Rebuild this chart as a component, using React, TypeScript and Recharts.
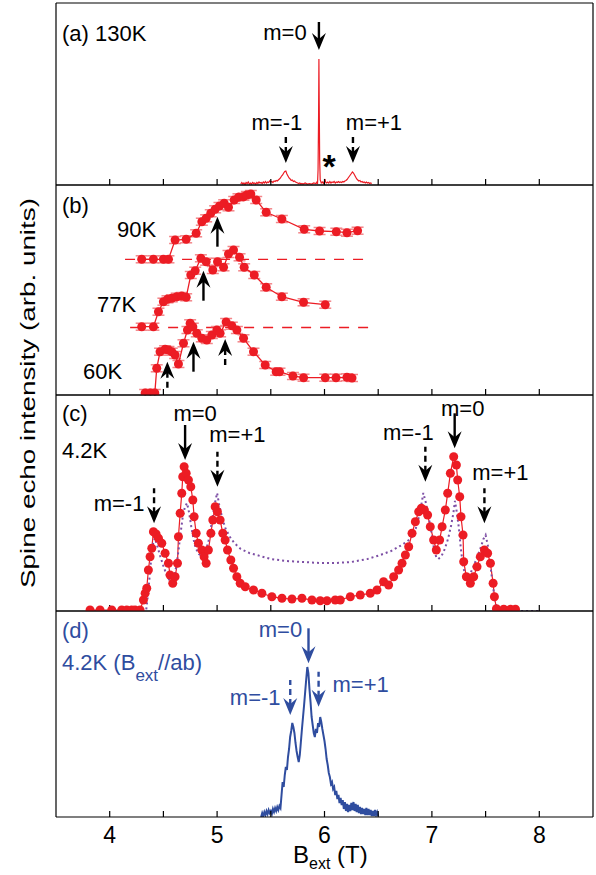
import React from 'react';
import { ComposedChart, Line, XAxis, YAxis, ErrorBar, ReferenceLine, ReferenceDot } from 'recharts';

const RED = '#ec1c24';
const PINK = '#f3868a';
const PURPLE = '#7d4fa5';
const BLUE = '#2f4d9f';
const FONT = '"Liberation Sans", Arial, sans-serif';

const xTicks = [4, 4.5, 5, 5.5, 6, 6.5, 7, 7.5, 8];

// (a) 130K spectrum
const spec130K = [
  [5.22, 1], [5.23, 2.5], [5.24, 1], [5.25, 2], [5.26, 0.5], [5.27, 2.5], [5.28, 1.5], [5.29, 3], [5.3, 1], [5.31, 2],
  [5.32, 1], [5.33, 2.5], [5.34, 1.5], [5.35, 2], [5.36, 1], [5.37, 2.5], [5.38, 1.5], [5.39, 3], [5.4, 2], [5.41, 2.5],
  [5.42, 1.5], [5.43, 3], [5.44, 2], [5.45, 3.5], [5.46, 2], [5.47, 3], [5.48, 2.5], [5.49, 4], [5.5, 3], [5.51, 3.5],
  [5.52, 2.5], [5.53, 4], [5.54, 3.5], [5.55, 4.5], [5.56, 4], [5.57, 5], [5.58, 6], [5.59, 7], [5.6, 9], [5.61, 10],
  [5.62, 12], [5.63, 13.5], [5.64, 14], [5.65, 11], [5.66, 9], [5.67, 7], [5.68, 6], [5.69, 4.5], [5.7, 5], [5.71, 3.5],
  [5.72, 4], [5.73, 3], [5.74, 2.5], [5.75, 2], [5.76, 1.5], [5.77, 2], [5.78, 1], [5.79, 1.5], [5.8, 1], [5.82, 2],
  [5.84, 1], [5.86, 1.5], [5.88, 1], [5.9, 2], [5.92, 1.5], [5.93, 3], [5.935, 1], [5.94, 15], [5.945, 70], [5.948, 126],
  [5.951, 80], [5.955, 25], [5.96, 5], [5.97, 2], [5.98, 3], [5.99, 1.5], [6.0, 4], [6.005, 6], [6.01, 3], [6.02, 2],
  [6.03, 3], [6.04, 2], [6.05, 3.5], [6.06, 2], [6.07, 3], [6.08, 2.5], [6.09, 3.5], [6.1, 2], [6.11, 3], [6.12, 2.5],
  [6.13, 3.5], [6.14, 2.5], [6.15, 3], [6.16, 2.5], [6.17, 3.5], [6.18, 3], [6.19, 4], [6.2, 4.5], [6.21, 5.5], [6.22, 7],
  [6.23, 8.5], [6.24, 10], [6.25, 11.5], [6.26, 13], [6.27, 12], [6.28, 10], [6.29, 8], [6.3, 6], [6.31, 5], [6.32, 4],
  [6.33, 4.5], [6.34, 3], [6.35, 3.5], [6.36, 2.5], [6.37, 3], [6.38, 2], [6.39, 3], [6.4, 2], [6.41, 2.5], [6.42, 1.5],
  [6.43, 2], [6.44, 1.5],
];

// (b) offset spectra with error bars
const spec90K = [
  [4.298, 135.7], [4.407, 135.7], [4.5, 135.7], [4.547, 135.7], [4.609, 155], [4.712, 155.7], [4.805, 161.7],
  [4.858, 173.3], [4.898, 176.7], [4.941, 181.7], [4.982, 185.7], [5.022, 189], [5.066, 191.7], [5.106, 187.7],
  [5.159, 195], [5.199, 197.7], [5.246, 198.3], [5.277, 200], [5.314, 201], [5.364, 195], [5.457, 182.7],
  [5.603, 176], [5.811, 165.7], [5.954, 164], [6.11, 163.3], [6.209, 162.3], [6.308, 164.3],
];
const spec77K = [
  [4.298, 68.3], [4.407, 68.3], [4.454, 83.3], [4.5, 93.3], [4.538, 95.7], [4.578, 96.7], [4.624, 98.3],
  [4.671, 99], [4.712, 97.7], [4.755, 120], [4.796, 124.3], [4.849, 136.7], [4.898, 133.3], [4.96, 125],
  [5.004, 133.3], [5.06, 127.7], [5.106, 141], [5.153, 145], [5.209, 137.7], [5.252, 127.7], [5.346, 120],
  [5.457, 107.7], [5.603, 98.3], [5.805, 92.7], [6.007, 90.3],
];
const spec60K = [
  [4.33, 2], [4.38, 2], [4.42, 2], [4.438, 26.7], [4.469, 43.3], [4.516, 45.7], [4.547, 45], [4.578, 43.3],
  [4.609, 40], [4.64, 31], [4.687, 51.7], [4.724, 65], [4.749, 71.7], [4.774, 68.3], [4.811, 61.7], [4.858, 56.7],
  [4.904, 55], [4.951, 60], [4.998, 65], [5.028, 61.7], [5.084, 73], [5.137, 69.3], [5.184, 65], [5.246, 56.7],
  [5.339, 43.3], [5.448, 30], [5.55, 23.3], [5.581, 23.3], [5.706, 19], [5.805, 17.3], [6.007, 17.3], [6.107, 17.3],
  [6.209, 17.7], [6.256, 17],
];
const baseline90K = [4.143, 6.426, 135.7];
const baseline77K = [4.19, 6.47, 67.5];

// (c) 4.2K spectrum and simulation
const spec4K = [
  [3.817, 1], [3.91, 1], [4.019, 1], [4.112, 1], [4.159, 1], [4.205, 1], [4.236, 1], [4.283, 1], [4.314, 11],
  [4.33, 17.7], [4.345, 22.7], [4.36, 41], [4.376, 54.3], [4.392, 62.7], [4.407, 79.3], [4.432, 77], [4.454, 72.7],
  [4.485, 67.7], [4.516, 57.7], [4.547, 47.7], [4.562, 36], [4.587, 27.7], [4.609, 34.3], [4.631, 47.7],
  [4.64, 74.3], [4.656, 97.7], [4.671, 117.7], [4.68, 134.3], [4.693, 144.3], [4.712, 137.7], [4.733, 131],
  [4.755, 124.3], [4.774, 111], [4.786, 94.3], [4.805, 77.7], [4.826, 67.7], [4.858, 61], [4.879, 54.3],
  [4.898, 47.7], [4.919, 61], [4.942, 77.7], [4.96, 91], [4.982, 104.3], [5.003, 99.3], [5.028, 91], [5.053, 77.7],
  [5.075, 71], [5.097, 61], [5.128, 51], [5.153, 42.7], [5.184, 34.3], [5.215, 27.7], [5.262, 24.3], [5.339, 21],
  [5.417, 17.7], [5.51, 14.3], [5.604, 12.7], [5.697, 12], [5.79, 12.7], [5.883, 11], [5.96, 10.3], [6.023, 10.3],
  [6.1, 11], [6.147, 11], [6.24, 14.3], [6.333, 16], [6.426, 17.7], [6.489, 21], [6.55, 29.3], [6.597, 26],
  [6.644, 34.3], [6.69, 41], [6.722, 47.7], [6.753, 56], [6.784, 64.3], [6.815, 77.7], [6.846, 89.3], [6.877, 99.3],
  [6.902, 102.7], [6.93, 101], [6.96, 96], [6.985, 84.3], [7.016, 71], [7.041, 61], [7.072, 71], [7.095, 84.3],
  [7.125, 101], [7.147, 117.7], [7.172, 137.7], [7.203, 154.3], [7.228, 146], [7.24, 131], [7.259, 114.3],
  [7.271, 94.3], [7.29, 76], [7.296, 49.3], [7.321, 34.3], [7.358, 27.7], [7.389, 34.3], [7.42, 44.3], [7.451, 54.3],
  [7.489, 61], [7.519, 57.7], [7.545, 47.7], [7.57, 27.7], [7.582, 14.3], [7.601, 2.3], [7.669, 1.7], [7.731, 1.7],
  [7.778, 1.7],
];
const sim4K = [
  [4.3, 0], [4.34, 1], [4.36, 20], [4.38, 45], [4.4, 66], [4.42, 73], [4.44, 66], [4.47, 55], [4.5, 45], [4.53, 36],
  [4.56, 30], [4.58, 28], [4.6, 33], [4.62, 45], [4.64, 60], [4.66, 78], [4.68, 94], [4.7, 104], [4.72, 108],
  [4.74, 98], [4.76, 84], [4.78, 72], [4.8, 63], [4.83, 57], [4.86, 55], [4.89, 58], [4.92, 70], [4.95, 88],
  [4.98, 108], [5.0, 118], [5.02, 106], [5.05, 92], [5.08, 82], [5.12, 74], [5.16, 68], [5.22, 62], [5.3, 58],
  [5.4, 55], [5.5, 52], [5.65, 50], [5.8, 49], [5.95, 48], [6.1, 48], [6.25, 49], [6.4, 52], [6.52, 56], [6.62, 60],
  [6.72, 66], [6.8, 72], [6.84, 79], [6.87, 90], [6.9, 105], [6.92, 118], [6.94, 110], [6.96, 100], [6.98, 88],
  [7.0, 76], [7.02, 62], [7.04, 54], [7.06, 52], [7.09, 55], [7.12, 62], [7.15, 72], [7.18, 86], [7.2, 98],
  [7.215, 110], [7.23, 100], [7.25, 84], [7.27, 62], [7.29, 45], [7.31, 36], [7.33, 34], [7.36, 38], [7.39, 45],
  [7.42, 54], [7.45, 62], [7.48, 72], [7.5, 76], [7.52, 66], [7.54, 50], [7.56, 32], [7.58, 16], [7.6, 4], [7.62, 0],
  [7.8, 0], [7.99, 0],
];

// (d) 4.2K, B_ext // ab
const specAb = [
  [5.41, 0], [5.42, 4], [5.43, 1], [5.44, 5], [5.45, 2], [5.46, 6], [5.47, 3], [5.48, 7], [5.49, 4], [5.5, 6],
  [5.51, 3], [5.52, 8], [5.53, 5], [5.54, 9], [5.55, 6], [5.56, 10], [5.57, 7], [5.58, 11], [5.59, 9], [5.6, 22],
  [5.61, 35], [5.62, 30], [5.63, 42], [5.64, 50], [5.65, 47], [5.66, 60], [5.67, 68], [5.68, 80], [5.69, 86],
  [5.7, 94], [5.71, 90], [5.72, 84], [5.73, 74], [5.74, 66], [5.75, 60], [5.76, 55], [5.77, 62], [5.78, 75],
  [5.79, 88], [5.8, 100], [5.81, 112], [5.82, 125], [5.83, 138], [5.84, 150], [5.85, 144], [5.86, 128], [5.87, 115],
  [5.88, 100], [5.89, 92], [5.9, 84], [5.91, 80], [5.92, 88], [5.93, 84], [5.94, 94], [5.95, 90], [5.96, 100],
  [5.97, 95], [5.98, 88], [5.99, 82], [6.0, 76], [6.01, 68], [6.02, 58], [6.03, 52], [6.04, 44], [6.05, 40],
  [6.06, 33], [6.07, 35], [6.08, 28], [6.09, 30], [6.1, 22], [6.11, 26], [6.12, 18], [6.13, 22], [6.14, 14],
  [6.15, 19], [6.16, 12], [6.17, 17], [6.18, 8], [6.19, 15], [6.2, 6], [6.21, 13], [6.22, 5], [6.23, 12], [6.24, 6],
  [6.25, 14], [6.26, 7], [6.27, 15], [6.28, 6], [6.29, 13], [6.3, 5], [6.31, 12], [6.32, 4], [6.33, 10], [6.34, 3],
  [6.35, 9], [6.36, 3], [6.37, 8], [6.38, 2], [6.39, 9], [6.4, 2], [6.41, 8], [6.42, 2], [6.43, 7], [6.44, 1],
  [6.45, 6], [6.46, 1], [6.47, 7], [6.48, 2], [6.49, 5], [6.5, 1],
];

// arrow annotations: tip position in data units
const arrowsA = [
  { x: 5.948, y: 135, dir: 'down', dashed: false, label: 'm=0', dx: -34, dy: -18 },
  { x: 5.64, y: 22, dir: 'down', dashed: true, label: 'm=-1', dx: -9, dy: -41 },
  { x: 6.265, y: 22, dir: 'down', dashed: true, label: 'm=+1', dx: 21, dy: -41 },
];
const arrowsB = [
  { x: 5.003, y: 178.3, dir: 'up', dashed: false },
  { x: 4.873, y: 124.3, dir: 'up', dashed: false },
  { x: 4.78, y: 53.3, dir: 'up', dashed: false },
  { x: 5.075, y: 56, dir: 'up', dashed: true },
  { x: 4.537, y: 33.3, dir: 'up', dashed: true },
];
const arrowsC = [
  { x: 4.413, y: 87.7, dir: 'down', dashed: true, label: 'm=-1', dx: -35, dy: -20 },
  { x: 4.702, y: 151, dir: 'down', dashed: false, label: 'm=0', dx: 10, dy: -47 },
  { x: 5.003, y: 124.3, dir: 'down', dashed: true, label: 'm=+1', dx: 20, dy: -52 },
  { x: 6.939, y: 129.3, dir: 'down', dashed: true, label: 'm=-1', dx: -17, dy: -49 },
  { x: 7.212, y: 162.7, dir: 'down', dashed: false, label: 'm=0', dx: 8, dy: -40 },
  { x: 7.489, y: 87.7, dir: 'down', dashed: true, label: 'm=+1', dx: 16, dy: -51 },
];
const arrowsD = [
  { x: 5.851, y: 153.7, dir: 'down', dashed: false, label: 'm=0', dx: -28, dy: -34 },
  { x: 5.681, y: 102, dir: 'down', dashed: true, label: 'm=-1', dx: -35, dy: -18 },
  { x: 5.945, y: 110.3, dir: 'down', dashed: true, label: 'm=+1', dx: 42, dy: -22 },
];

const toPts = (arr: number[][]) => arr.map(([x, y]) => ({ x, y }));
const withErr = (arr: number[][]) => arr.map(([x, y]) => ({ x, y, e: 3.5 }));

function arrowShape(a: any, color: string, len: number) {
  return (p: any) => {
    const { cx, cy } = p;
    const t = a.dir === 'down' ? -1 : 1;
    return (
      <g>
        <line x1={cx} x2={cx} y1={cy + t * 10} y2={cy + t * len} stroke={color} strokeWidth={2.4}
          strokeDasharray={a.dashed ? '6 4' : undefined} />
        <path d={`M${cx},${cy} L${cx - 7},${cy + t * 17} L${cx},${cy + t * 11} L${cx + 7},${cy + t * 17} Z`} fill={color} />
        {a.label ? (
          <text x={cx + a.dx} y={cy + a.dy} textAnchor="middle" dominantBaseline="central" fontSize={22}
            fontFamily={FONT} fill={color}>{a.label}</text>
        ) : null}
      </g>
    );
  };
}

function arrows(list: any[], color: string, len: number) {
  return list.map((a, i) => (
    <ReferenceDot key={'ar' + i} x={a.x} y={a.y} r={0} xAxisId="b" yAxisId="l" ifOverflow="visible"
      shape={arrowShape(a, color, len)} />
  ));
}

const frameLine = { stroke: '#000', strokeWidth: 1.2 };

function frame(yMax: number, labels: boolean) {
  const tick = (p: any) => {
    const v = p.payload.value;
    if (!labels || !Number.isInteger(v)) return <g />;
    return (
      <text x={p.x} y={p.y} dy={15} textAnchor="middle" fontSize={23} fontFamily={FONT} fill="#000">{v}</text>
    );
  };
  return [
    <XAxis key="xb" xAxisId="b" type="number" dataKey="x" domain={[3.5, 8.5]} ticks={xTicks} interval={0}
      allowDataOverflow height={1} tickSize={-6} tickMargin={17} tick={tick} tickLine={frameLine} axisLine={frameLine} />,
    <XAxis key="xt" xAxisId="t" orientation="top" type="number" domain={[3.5, 8.5]} ticks={xTicks} interval={0}
      allowDataOverflow height={1} tickSize={-6} tickFormatter={() => ''} tickLine={frameLine} axisLine={frameLine} />,
    <YAxis key="yl" yAxisId="l" type="number" domain={[0, yMax]} allowDataOverflow width={1} tick={false}
      tickLine={false} axisLine={frameLine} />,
    <YAxis key="yr" yAxisId="r" orientation="right" type="number" domain={[0, yMax]} width={1} tick={false}
      tickLine={false} axisLine={frameLine} />,
  ];
}

const box = (top: number): React.CSSProperties => ({ position: 'absolute', left: 0, top: top - 1 });

export default function App() {
  const m = { top: 0, right: 2, bottom: 0, left: 55 };
  const errDots = { r: 4.5, fill: RED, stroke: RED, strokeWidth: 0 };
  return (
    <div style={{ position: 'absolute', left: 0, top: 0, width: 596, height: 875, background: '#fff', fontFamily: FONT, overflow: 'hidden' }}>
      {/* (a) */}
      <div style={box(3)}>
        <ComposedChart width={596} height={184} margin={m}>
          {frame(182, false)}
          <Line data={toPts(spec130K)} dataKey="y" xAxisId="b" yAxisId="l" stroke={RED} strokeWidth={1.2}
            dot={false} isAnimationActive={false} />
          {arrows(arrowsA, '#000', 28)}
          <ReferenceDot x={6.044} y={17} r={0} xAxisId="b" yAxisId="l" ifOverflow="visible"
            shape={(p: any) => (
              <text x={p.cx} y={p.cy + 10} textAnchor="middle" fontSize={34} fontWeight="bold" fontFamily={FONT}>*</text>
            )} />
        </ComposedChart>
      </div>
      {/* (b) */}
      <div style={box(185)}>
        <ComposedChart width={596} height={212} margin={m}>
          {frame(210, false)}
          <ReferenceLine xAxisId="b" yAxisId="l" segment={[{ x: baseline90K[0], y: baseline90K[2] }, { x: baseline90K[1], y: baseline90K[2] }]}
            stroke={RED} strokeWidth={1.3} strokeDasharray="10 9" />
          <ReferenceLine xAxisId="b" yAxisId="l" segment={[{ x: baseline77K[0], y: baseline77K[2] }, { x: baseline77K[1], y: baseline77K[2] }]}
            stroke={RED} strokeWidth={1.3} strokeDasharray="10 9" />
          {[spec90K, spec77K, spec60K].map((s, i) => (
            <Line key={i} data={withErr(s)} dataKey="y" xAxisId="b" yAxisId="l" stroke={RED} strokeWidth={1.3}
              dot={errDots} isAnimationActive={false}>
              <ErrorBar dataKey="e" direction="y" width={6} stroke={PINK} strokeWidth={1.5} isAnimationActive={false} />
            </Line>
          ))}
          {arrows(arrowsB, '#000', 30)}
        </ComposedChart>
      </div>
      {/* (c) */}
      <div style={box(395)}>
        <ComposedChart width={596} height={218} margin={m}>
          {frame(216, false)}
          <Line data={toPts(spec4K)} dataKey="y" xAxisId="b" yAxisId="l" stroke={RED} strokeWidth={1.2}
            dot={errDots} isAnimationActive={false} />
          <Line data={toPts(sim4K)} dataKey="y" xAxisId="b" yAxisId="l" stroke={PURPLE} strokeWidth={2}
            strokeDasharray="2 3" dot={false} isAnimationActive={false} />
          {arrows(arrowsC, '#000', 35)}
        </ComposedChart>
      </div>
      {/* (d) */}
      <div style={box(611)}>
        <ComposedChart width={596} height={265} margin={{ ...m, bottom: 57 }}>
          {frame(206, true)}
          <Line data={toPts(specAb)} dataKey="y" xAxisId="b" yAxisId="l" stroke={BLUE} strokeWidth={2}
            dot={false} isAnimationActive={false} />
          {arrows(arrowsD, BLUE, 35)}
        </ComposedChart>
      </div>
      <svg width={596} height={875} style={{ position: 'absolute', left: 0, top: 0, pointerEvents: 'none' }}
        fontFamily={FONT} fontSize={22}>
        <text x={62} y={41}>(a) 130K</text>
        <text x={62} y={213}>(b)</text>
        <text x={117} y={237}>90K</text>
        <text x={97} y={312}>77K</text>
        <text x={83} y={379}>60K</text>
        <text x={62} y={421}>(c)</text>
        <text x={62} y={458}>4.2K</text>
        <text x={62} y={638} fill={BLUE}>(d)</text>
        <text x={62} y={670} fill={BLUE}>
          4.2K (B<tspan dy={11} fontSize={17}>ext</tspan><tspan dy={-11}>//ab)</tspan>
        </text>
        <text x={293} y={863} fontSize={24}>
          B<tspan dy={6} fontSize={16}>ext</tspan><tspan dy={-6}> (T)</tspan>
        </text>
        <text transform="translate(35,393) rotate(-90)" textAnchor="middle" fontSize={20}
          textLength={390} lengthAdjust="spacingAndGlyphs"
          fontFamily='"Liberation Sans Narrow", "Arial Narrow", "Liberation Sans", sans-serif'>
          Spine echo intensity (arb. units)
        </text>
      </svg>
    </div>
  );
}
